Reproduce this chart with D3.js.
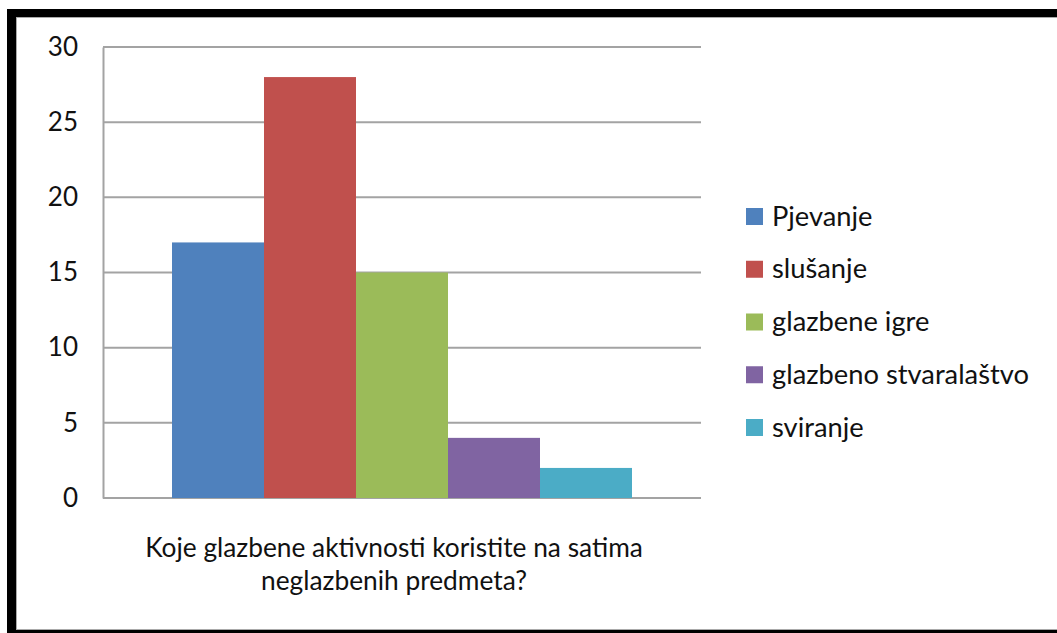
<!DOCTYPE html>
<html>
<head>
<meta charset="utf-8">
<script src="https://cdn.jsdelivr.net/npm/d3@7"></script>
<style>
  body { margin: 0; background: #fff; }
  svg { display: block; }
  text { font-family: Lato, "Open Sans", sans-serif; fill: #111; }
</style>
</head>
<body>
<div id="chart"></div>
<script>
// chart data
const category = "Koje glazbene aktivnosti koristite na satima neglazbenih predmeta?";
const titleLines = ["Koje glazbene aktivnosti koristite na satima", "neglazbenih predmeta?"];
const series = ["Pjevanje", "slušanje", "glazbene igre", "glazbeno stvaralaštvo", "sviranje"];
const values = [17, 28, 15, 4, 2];
const colors = ["#4f81bd", "#c0504d", "#9bbb59", "#8064a2", "#4bacc6"];
const yTicks = [0, 5, 10, 15, 20, 25, 30];

const W = 1057, H = 633;
const plot = {left: 103, right: 701, top: 47, bottom: 498};

const svg = d3.select("#chart").append("svg")
    .attr("width", W)
    .attr("height", H);

// frame of the screenshot
const frame = svg.append("g").attr("class", "frame");
frame.append("rect").attr("x", 7).attr("y", 9).attr("width", W).attr("height", 8).attr("fill", "#000");
frame.append("rect").attr("x", 7).attr("y", 9).attr("width", 9).attr("height", H).attr("fill", "#000");
frame.append("rect").attr("x", 7).attr("y", 630).attr("width", W).attr("height", 4).attr("fill", "#000");
frame.append("line").attr("x1", 16).attr("x2", W).attr("y1", 17.5).attr("y2", 17.5).attr("stroke", "#aaa");
frame.append("line").attr("x1", 16.5).attr("x2", 16.5).attr("y1", 17).attr("y2", 630).attr("stroke", "#aaa");
frame.append("line").attr("x1", 16).attr("x2", W).attr("y1", 629.5).attr("y2", 629.5).attr("stroke", "#aaa");

const y = d3.scaleLinear()
    .domain([0, 30])
    .range([plot.bottom, plot.top]);

const x0 = d3.scaleBand()
    .domain([category])
    .range([plot.left, plot.right])
    .paddingInner(0)
    .paddingOuter(0.15);

const x1 = d3.scaleBand()
    .domain(series)
    .range([0, x0.bandwidth()])
    .padding(0);

// gridlines
svg.append("g")
    .attr("class", "grid")
    .selectAll("line")
    .data(yTicks)
    .join("line")
    .attr("x1", plot.left)
    .attr("x2", plot.right)
    .attr("y1", d => y(d))
    .attr("y2", d => y(d))
    .attr("stroke", "#a3a3a3")
    .attr("stroke-width", 2);

// left axis
const yAxis = svg.append("g")
    .attr("transform", `translate(${plot.left},0)`)
    .call(d3.axisLeft(y).tickValues(yTicks).tickSize(0).tickPadding(25));
yAxis.select(".domain").attr("stroke", "#a3a3a3").attr("stroke-width", 2);
yAxis.selectAll("text")
    .style("font-size", "26px")
    .style("font-family", "Lato, sans-serif")
    .attr("fill", "#111");

// bars
svg.append("g")
    .attr("class", "bars")
    .selectAll("rect")
    .data(series.map((s, i) => ({name: s, value: values[i], color: colors[i]})))
    .join("rect")
    .attr("x", d => x0(category) + x1(d.name))
    .attr("y", d => y(d.value))
    .attr("width", x1.bandwidth())
    .attr("height", d => y(0) - y(d.value))
    .attr("fill", d => d.color);

// x axis title
const cx = x0(category) + x0.bandwidth() / 2 - 8;
svg.append("text")
    .attr("text-anchor", "middle")
    .attr("x", cx)
    .attr("y", 557)
    .style("font-size", "26.3px")
    .selectAll("tspan")
    .data(titleLines)
    .join("tspan")
    .attr("x", cx)
    .attr("dy", (d, i) => i === 0 ? 0 : 33)
    .text(d => d);

// legend
const ly = d3.scalePoint().domain(series).range([216, 427]);
const legend = svg.append("g")
    .attr("class", "legend")
    .selectAll("g")
    .data(series)
    .join("g")
    .attr("transform", d => `translate(746,${ly(d)})`);

legend.append("rect")
    .attr("x", 0)
    .attr("y", -8)
    .attr("width", 17)
    .attr("height", 17)
    .attr("fill", (d, i) => colors[i]);

legend.append("text")
    .attr("x", 26)
    .attr("dy", "0.35em")
    .style("font-size", "27.3px")
    .text(d => d);
</script>
</body>
</html>
